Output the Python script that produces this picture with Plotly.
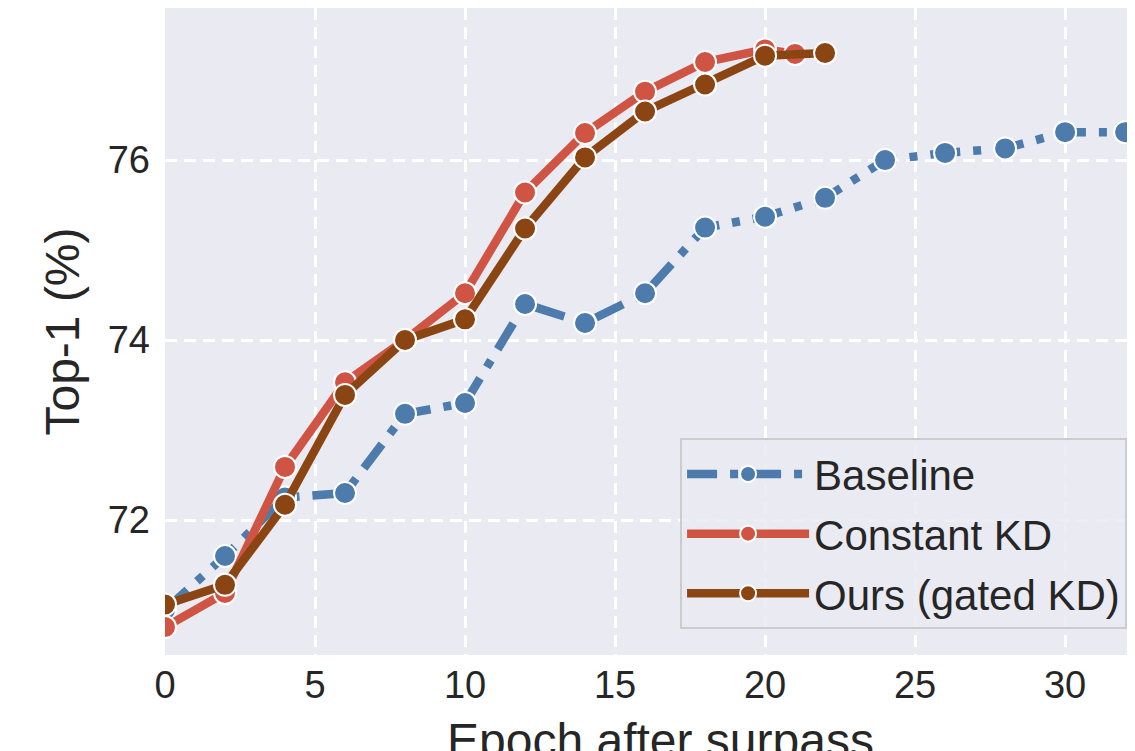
import plotly.graph_objects as go

base_x = [0, 2, 4, 6, 8, 10, 12, 14, 16, 18, 20, 22, 24, 26, 28, 30, 32]
base_y = [71.0, 71.6, 72.25, 72.3, 73.18, 73.3, 74.4, 74.19, 74.52, 75.25, 75.37, 75.58, 76.0, 76.08, 76.13, 76.31, 76.31]

kd_x = [0, 2, 4, 6, 8, 10, 12, 14, 16, 18, 20, 21]
kd_y = [70.81, 71.19, 72.59, 73.53, 74.0, 74.52, 75.64, 76.3, 76.76, 77.09, 77.23, 77.18]

ours_x = [0, 2, 4, 6, 8, 10, 12, 14, 16, 18, 20, 22]
ours_y = [71.06, 71.28, 72.17, 73.39, 74.0, 74.23, 75.24, 76.03, 76.54, 76.84, 77.16, 77.19]

names = ["Baseline", "Constant KD", "Ours (gated KD)"]
colors = ["#4C7BAC", "#D05443", "#8B4513"]
x_title = "Epoch after surpass"
y_title = "Top-1 (%)"

FONT = "Liberation Sans, Arial, sans-serif"

fig = go.Figure()
series = [(base_x, base_y, "30px,13px,8px,13px"), (kd_x, kd_y, "solid"), (ours_x, ours_y, "solid")]
for (xs, ys, dash), name, c in zip(series, names, colors):
    fig.add_trace(go.Scatter(
        x=xs, y=ys, name=name, mode="lines+markers", legendgroup=name,
        line=dict(color=c, width=8.5, dash=dash),
        marker=dict(size=22, color=c, line=dict(color="white", width=2)),
    ))

fig.add_annotation(
    text=x_title, xref="paper", yref="paper", x=0.511, y=0,
    xanchor="center", yanchor="top", yshift=-57, showarrow=False,
    font=dict(size=48, family=FONT, color="#262626"),
)

fig.update_layout(
    width=1127, height=743,
    margin=dict(l=157, r=0, t=0, b=96, autoexpand=False),
    paper_bgcolor="white", plot_bgcolor="#EAEAF2",
    font=dict(family=FONT, color="#262626", size=38),
    showlegend=True,
    legend=dict(
        x=0.531, y=0.335, xanchor="left", yanchor="top",
        bgcolor="rgba(234,234,242,0.85)", bordercolor="#CCCCCC", borderwidth=2,
        font=dict(size=42, family=FONT, color="#262626"),
        itemwidth=122, traceorder="grouped", tracegroupgap=2,
    ),
    xaxis=dict(
        range=[0, 32.33], tickvals=[0, 5, 10, 15, 20, 25, 30], automargin=False,
        showgrid=True, gridcolor="white", griddash="12px,7px", gridwidth=2.5,
        zeroline=False, showline=False, ticks="", ticklabelstandoff=4,
        tickfont=dict(size=38),
    ),
    yaxis=dict(
        range=[70.5, 77.69], tickvals=[72, 74, 76], automargin=False,
        showgrid=True, gridcolor="white", griddash="12px,7px", gridwidth=2.5,
        zeroline=False, showline=False, ticks="", ticklabelstandoff=14,
        title=dict(text=y_title, font=dict(size=48), standoff=12),
        tickfont=dict(size=38),
    ),
)

fig.write_html("out.html")
